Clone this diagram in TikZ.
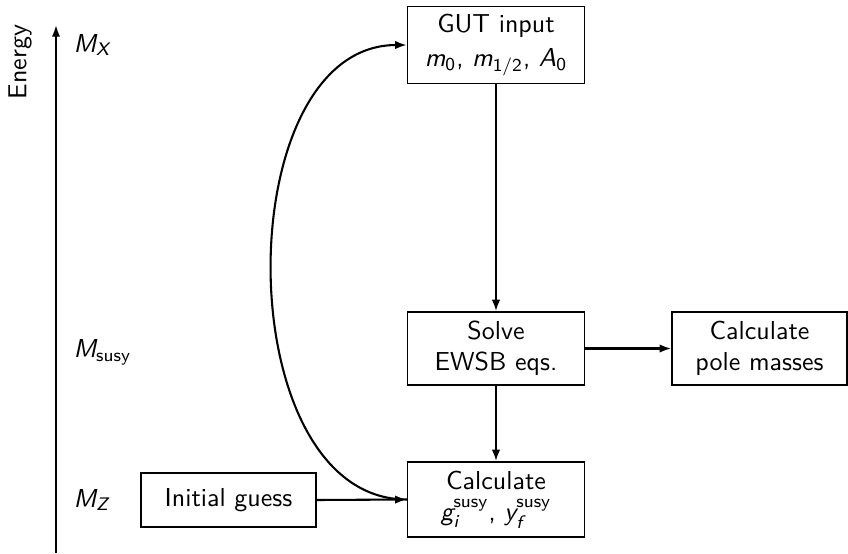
\documentclass[tikz,border=0pt]{standalone}
\usepackage{amsmath}
\usetikzlibrary{arrows.meta}
\newcommand\pu{0.385pt}
\newcommand\vi[1]{\text{\sffamily\itshape #1}}
\newcommand\vu[1]{\text{\sffamily\upshape #1}}
\begin{document}
\begin{tikzpicture}[x=0.385pt,y=-0.385pt,
  every node/.style={font=\sffamily},
  box/.style={draw,line width=0.45pt,align=center,inner sep=0pt,minimum width=177*\pu},
  conn/.style={-{Latex[length=4.5pt,width=3.2pt]},line width=0.8pt},
  lvl/.style={anchor=west,inner sep=0pt}]
\useasboundingbox (0,0) rectangle (848,553);
\node[box,minimum height=77*\pu] (gut) at (496,45) {GUT input\\[1pt]$\vi{m}_{\vu{0}}$, $\vi{m}_{\vu{1/2}}$, $\vi{A}_{\vu{0}}$};
\node[box,minimum height=73*\pu] (solve) at (496,348.5) {Solve\\EWSB eqs.};
\node[box,minimum width=175*\pu,minimum height=73*\pu] (pole) at (759.5,348.5) {Calculate\\pole masses};
\node[box,minimum height=75*\pu] (calc) at (496,499.5) {Calculate\\$\vi{g}_{\vi{i}}^{\vu{susy}}$, $\vi{y}_{\vi{f}}^{\vu{susy}}$};
\node[box,minimum width=175*\pu,minimum height=54*\pu] (init) at (228.5,500) {Initial guess};
\coordinate (axb) at (56,553);
\coordinate (axt) at (56,25);
\draw[conn] (axb) -- (axt);
\node[rotate=90,inner sep=0pt] (energy) at (20,62) {Energy};
\node[lvl] (mx) at (73,45) {$\vi{M}_{\vi{X}}$};
\node[lvl] (ms) at (73,352) {$\vi{M}_{\vu{susy}}$};
\node[lvl] (mz) at (73,500) {$\vi{M}_{\vi{Z}}$};
\draw[conn] (gut.south) -- (solve.north);
\draw[conn] (solve.south) -- (calc.north);
\draw[conn] (solve.east) -- (pole.west);
\draw[conn] (init.east) -- (calc.west);
\draw[conn] (calc.west) .. controls +(-180,0) and +(-180,0) .. (gut.west);
\end{tikzpicture}
\end{document}
